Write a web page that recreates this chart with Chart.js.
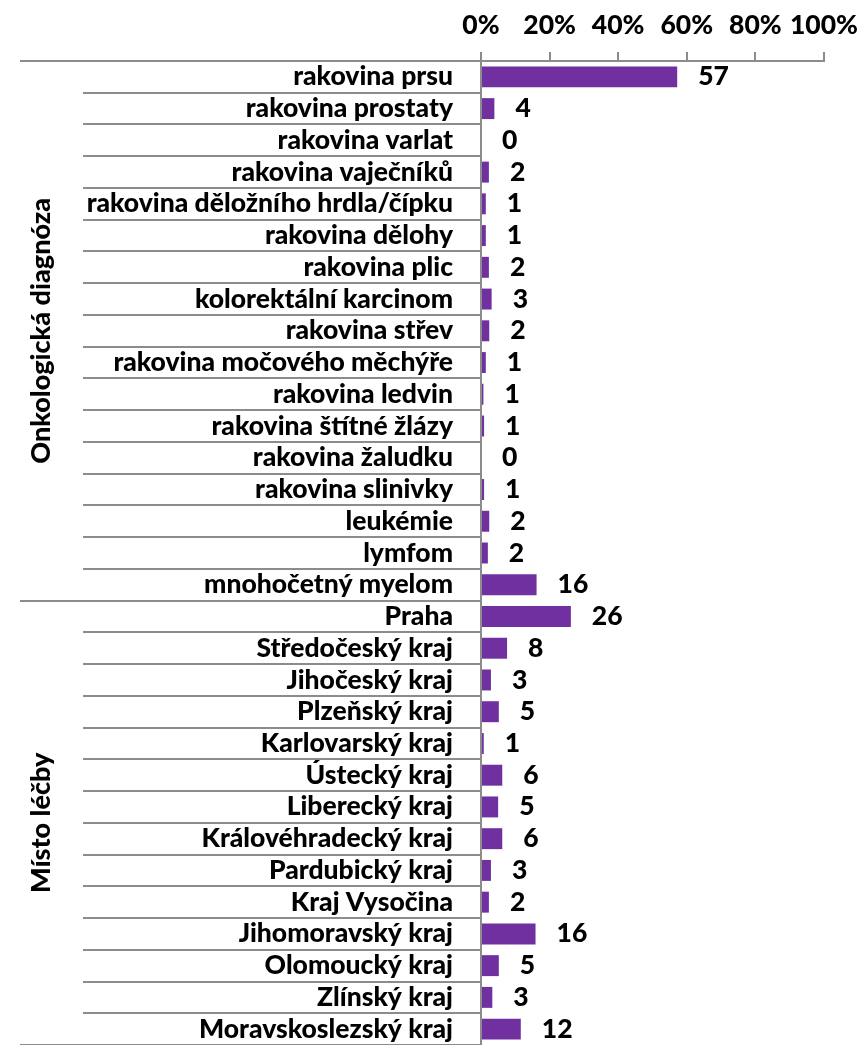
<!DOCTYPE html>
<html>
<head>
<meta charset="utf-8">
<script src="https://cdn.jsdelivr.net/npm/chart.js@4"></script>
<style>
html,body{margin:0;padding:0;background:#fff;}
canvas{display:block;}
</style>
</head>
<body>
<canvas id="c" width="861" height="1045"></canvas>
<script>
const diagnosisLabels = [
  "rakovina prsu","rakovina prostaty","rakovina varlat","rakovina vaječníků",
  "rakovina děložního hrdla/čípku","rakovina dělohy","rakovina plic",
  "kolorektální karcinom","rakovina střev","rakovina močového měchýře",
  "rakovina ledvin","rakovina štítné žlázy","rakovina žaludku",
  "rakovina slinivky","leukémie","lymfom","mnohočetný myelom"
];
const diagnosisValues = [57.2,3.9,0,2.3,1.4,1.4,2.3,3.1,2.4,1.4,0.7,0.9,0,0.9,2.4,2.0,16.2];

const placeLabels = [
  "Praha","Středočeský kraj","Jihočeský kraj","Plzeňský kraj","Karlovarský kraj",
  "Ústecký kraj","Liberecký kraj","Královéhradecký kraj","Pardubický kraj",
  "Kraj Vysočina","Jihomoravský kraj","Olomoucký kraj","Zlínský kraj",
  "Moravskoslezský kraj"
];
const placeValues = [26.2,7.6,2.9,5.2,0.8,6.2,5.0,6.2,2.9,2.3,15.9,5.2,3.3,11.6];

const groupNames = ["Onkologická diagnóza","Místo léčby"];
const groupSizes = [diagnosisLabels.length, placeLabels.length];

const xTicks = [0,20,40,60,80,100];

const categories = diagnosisLabels.concat(placeLabels);
const values = diagnosisValues.concat(placeValues);

const FONT = "Lato";
const FSIZE = 26.5;
const GSIZE = 27;
const WEIGHT = "900";
const GRAY = "#8c8c8c";

const groupPlugin = {
  id: "groups",
  afterDraw(chart) {
    const ctx = chart.ctx;
    const y = chart.scales.y;
    const area = chart.chartArea;
    const n = categories.length;
    const boundary = (i) => {
      if (i <= 0) return y.top;
      if (i >= n) return y.bottom;
      return (y.getPixelForValue(i - 1) + y.getPixelForValue(i)) / 2;
    };
    const groupStarts = [0];
    let acc = 0;
    groupSizes.forEach(s => { acc += s; groupStarts.push(acc); });
    ctx.save();
    ctx.strokeStyle = GRAY;
    ctx.lineWidth = 2;
    for (let i = 0; i <= n; i++) {
      const py = Math.round(boundary(i));
      const isGroup = groupStarts.includes(i);
      ctx.beginPath();
      ctx.moveTo(isGroup ? 20 : 83, py);
      ctx.lineTo(area.left, py);
      ctx.stroke();
    }
    ctx.fillStyle = "#000";
    ctx.font = WEIGHT + " " + GSIZE + "px " + FONT;
    ctx.textAlign = "center";
    ctx.textBaseline = "middle";
    for (let g = 0; g < groupNames.length; g++) {
      const cy = (boundary(groupStarts[g]) + boundary(groupStarts[g + 1])) / 2;
      ctx.save();
      ctx.translate(41, cy);
      ctx.rotate(-Math.PI / 2);
      ctx.fillText(groupNames[g], 0, 0);
      ctx.restore();
    }
    ctx.restore();
  }
};

const valueLabelPlugin = {
  id: "valueLabels",
  afterDatasetsDraw(chart) {
    const ctx = chart.ctx;
    const meta = chart.getDatasetMeta(0);
    ctx.save();
    ctx.fillStyle = "#000";
    ctx.font = WEIGHT + " " + FSIZE + "px " + FONT;
    ctx.textAlign = "left";
    ctx.textBaseline = "middle";
    meta.data.forEach((bar, i) => {
      ctx.fillText(String(Math.round(values[i])), bar.x + 21, bar.y);
    });
    ctx.restore();
  }
};

new Chart(document.getElementById("c"), {
  type: "bar",
  data: {
    labels: categories,
    datasets: [{
      data: values,
      backgroundColor: "#7030A0",
      borderWidth: 0,
      barPercentage: 0.66,
      categoryPercentage: 1.0
    }]
  },
  options: {
    indexAxis: "y",
    responsive: false,
    animation: false,
    layout: { padding: { top: 0, right: 37, bottom: 0, left: 0 } },
    plugins: { legend: { display: false }, tooltip: { enabled: false } },
    scales: {
      x: {
        position: "top",
        min: 0,
        max: 100,
        afterBuildTicks(scale) { scale.ticks = xTicks.map(v => ({ value: v })); },
        afterFit(scale) {
          scale.height = 61;
          scale.paddingLeft = 0; scale.paddingRight = 0;
          scale.paddingTop = 0; scale.paddingBottom = 0;
        },
        ticks: {
          callback: (v) => v + "%",
          color: "#000",
          font: { family: FONT, size: FSIZE, weight: WEIGHT },
          padding: 11,
          maxRotation: 0,
          autoSkip: false
        },
        grid: { display: true, drawOnChartArea: false, drawTicks: true, tickLength: 9, color: GRAY, lineWidth: 2 },
        border: { display: true, color: GRAY, width: 2 }
      },
      y: {
        afterFit(scale) {
          scale.width = 481;
          scale.paddingLeft = 0; scale.paddingRight = 0;
          scale.paddingTop = 0; scale.paddingBottom = 0;
        },
        ticks: {
          color: "#000",
          font: { family: FONT, size: FSIZE, weight: WEIGHT },
          padding: 28,
          autoSkip: false
        },
        grid: { display: false, drawTicks: false },
        border: { display: true, color: GRAY, width: 2 }
      }
    }
  },
  plugins: [groupPlugin, valueLabelPlugin]
});
</script>
</body>
</html>
